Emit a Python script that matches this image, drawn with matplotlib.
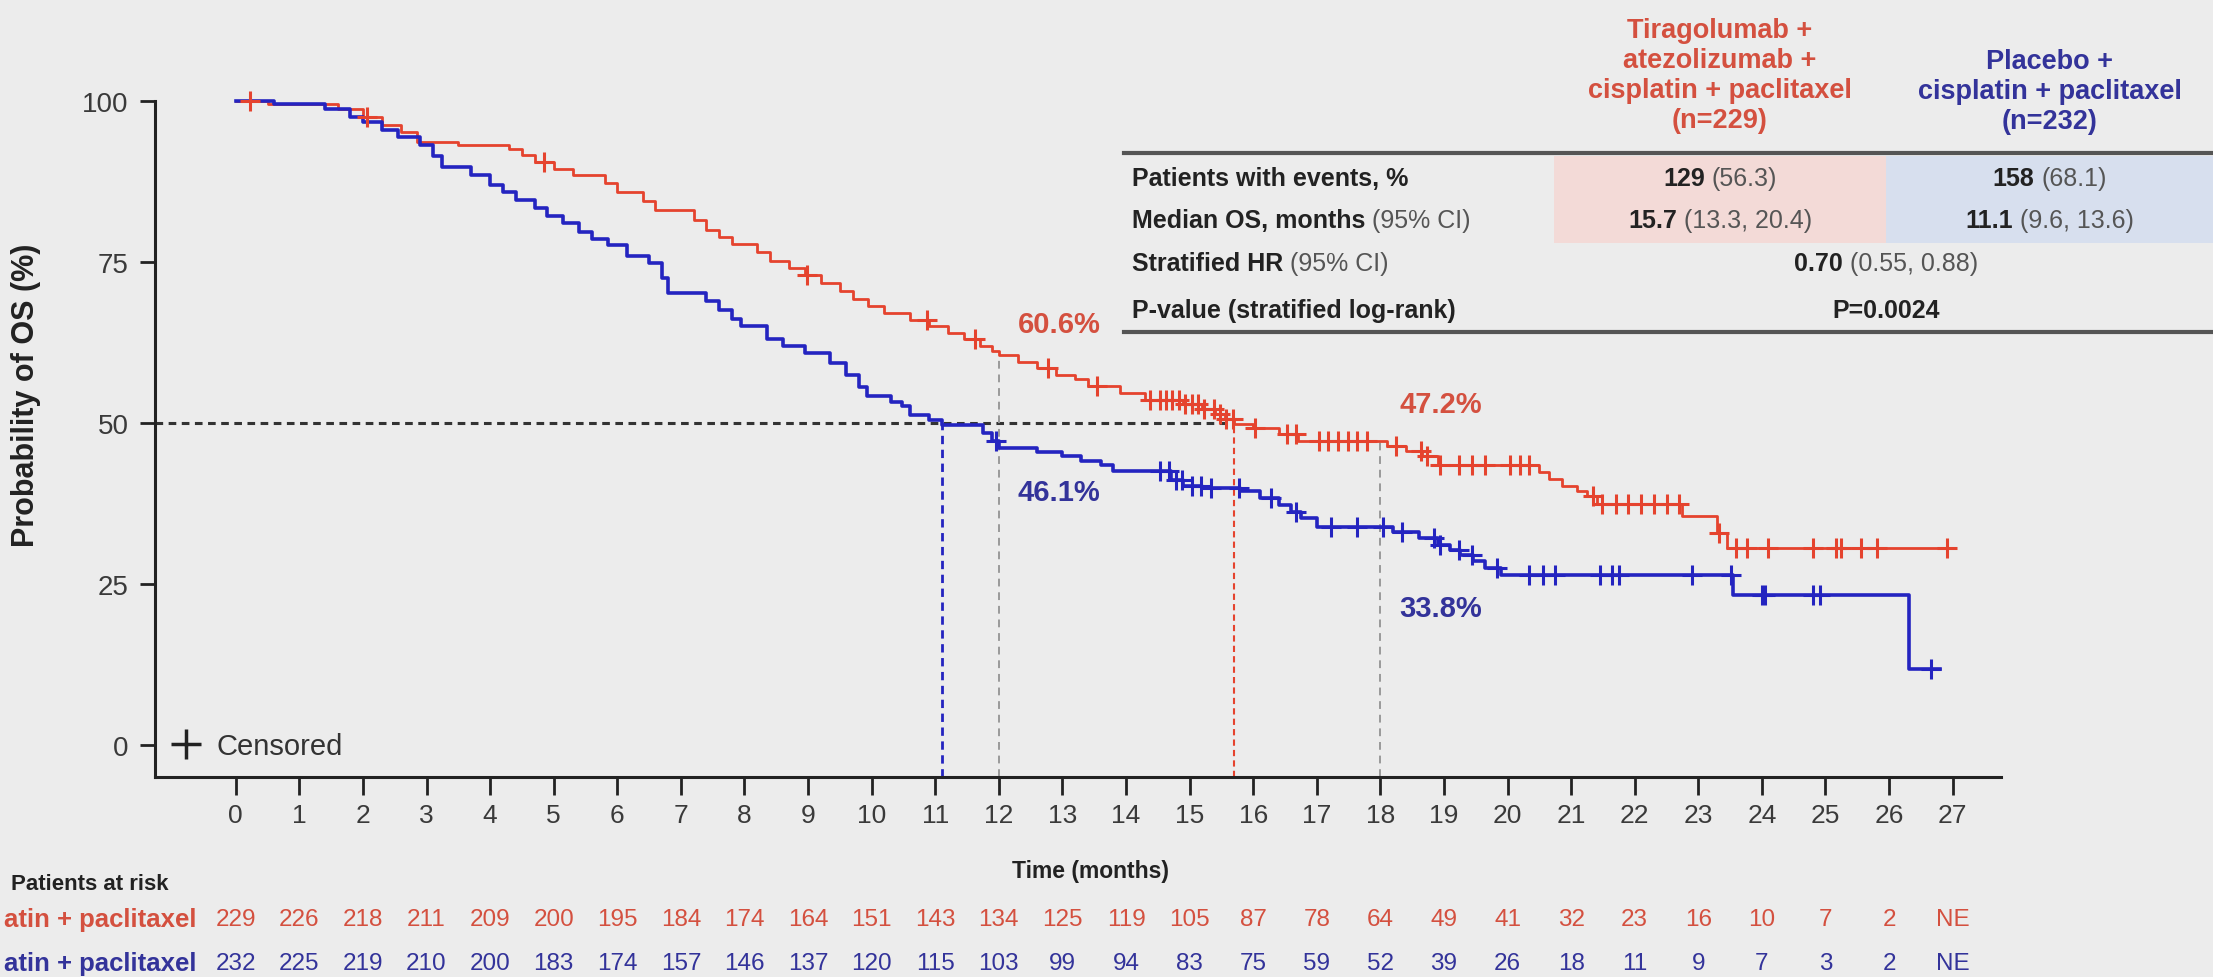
import matplotlib
matplotlib.use("Agg")
import matplotlib.pyplot as plt
import matplotlib.transforms as mtransforms
from matplotlib.lines import Line2D
from matplotlib.patches import Rectangle
import numpy as np

plt.rcParams['font.family'] = ['Liberation Sans', 'DejaVu Sans']

# Kaplan-Meier steps: time (months) and survival (%) after each step
red_t = [0, 0.5, 1.6, 2.0, 2.3, 2.6, 2.85, 3.5, 4.3, 4.5, 4.7, 5.0, 5.3, 5.8, 6.0,
         6.4, 6.6, 7.2, 7.4, 7.6, 7.8, 8.2, 8.4, 8.7, 8.95, 9.2, 9.5, 9.7, 9.95,
         10.2, 10.6, 10.9, 11.2, 11.45, 11.7, 11.9, 12.0, 12.3, 12.6, 12.9, 13.2, 13.4, 13.9,
         14.3, 14.9, 15.2, 15.4, 15.55, 15.7, 16.0, 16.4, 16.7, 18.1, 18.4, 18.65, 18.9, 20.5,
         20.65, 20.85, 21.1, 21.25, 21.4, 22.74, 23.3, 23.45]
red_s = [100, 99.5, 98.8, 97.5, 96.2, 95.2, 93.6, 93.1, 92.6, 91.6, 90.6, 89.5, 88.5, 87.2, 85.8,
         84.5, 83.0, 81.5, 80.0, 78.8, 77.8, 76.5, 75.2, 74.0, 73.0, 71.8, 70.5, 69.2, 68.2,
         67.1, 66.0, 65.0, 64.0, 63.0, 62.0, 61.2, 60.6, 59.5, 58.5, 57.5, 56.8, 55.8, 54.7,
         53.6, 52.9, 52.2, 51.4, 50.6, 49.8, 49.2, 48.2, 47.2, 46.4, 45.6, 44.8, 43.5, 42.3,
         41.3, 40.2, 39.4, 38.6, 37.4, 35.6, 32.9, 30.5]
red_end = 27.0
red_censor = [0.23, 2.06, 4.84, 8.98, 10.87, 11.62, 12.78, 13.55, 14.38, 14.53, 14.63, 14.73,
              14.83, 14.93, 15.03, 15.13, 15.23, 15.38, 15.48, 15.58, 15.68, 16.03, 16.53, 16.68,
              17.03, 17.18, 17.34, 17.49, 17.63, 17.79, 18.24, 18.64, 18.74, 18.94, 19.24, 19.44,
              19.64, 20.04, 20.19, 20.34, 21.35, 21.49, 21.70, 21.90, 22.10, 22.30, 22.50, 22.70,
              23.32, 23.60, 23.76, 24.10, 24.81, 25.16, 25.24, 25.56, 25.81, 26.91]

blue_t = [0, 0.6, 1.4, 1.8, 2.0, 2.3, 2.55, 2.9, 3.1, 3.25, 3.7, 4.0, 4.2, 4.4,
          4.7, 4.9, 5.15, 5.4, 5.6, 5.85, 6.15, 6.5, 6.7, 6.8, 7.4, 7.6, 7.8, 7.95,
          8.35, 8.6, 8.95, 9.35, 9.6, 9.8, 9.93, 10.3, 10.47, 10.6, 10.9, 11.1, 11.75, 11.9,
          12.0, 12.6, 13.0, 13.3, 13.6, 13.8, 14.7, 14.9, 15.2, 15.8, 16.1, 16.4, 16.6, 16.75,
          17.0, 18.2, 18.6, 18.9, 19.1, 19.25, 19.45, 19.65, 19.9, 23.55, 26.32]
blue_s = [100, 99.5, 98.8, 97.5, 96.7, 95.5, 94.4, 93.1, 91.5, 89.7, 88.5, 87.0, 85.8, 84.6,
          83.4, 82.2, 81.0, 79.6, 78.6, 77.6, 76.0, 74.9, 72.5, 70.2, 69.0, 67.5, 66.2, 65.1,
          63.0, 62.0, 60.9, 59.3, 57.5, 55.5, 54.2, 53.2, 52.6, 51.3, 50.4, 49.6, 48.5, 47.2,
          46.1, 45.5, 44.8, 44.1, 43.5, 42.5, 41.2, 40.2, 39.9, 39.4, 38.3, 37.3, 36.2, 35.2,
          33.8, 33.0, 32.1, 31.0, 30.2, 29.5, 28.5, 27.4, 26.4, 23.3, 11.8]
blue_end = 26.8
blue_censor = [11.96, 14.53, 14.68, 14.78, 14.88, 15.03, 15.18, 15.33, 15.78, 16.28, 16.68,
               17.23, 17.63, 18.04, 18.34, 18.84, 18.94, 19.24, 19.44, 19.84, 20.34, 20.55,
               20.75, 21.45, 21.65, 21.75, 22.90, 23.52, 24.00, 24.05, 24.81, 24.91, 26.66]

landmarks = [12, 18]
medians = [15.7, 11.1]

months = list(range(28))
red_risk = [229, 226, 218, 211, 209, 200, 195, 184, 174, 164, 151, 143, 134, 125,
            119, 105, 87, 78, 64, 49, 41, 32, 23, 16, 10, 7, 2, 'NE']
blue_risk = [232, 225, 219, 210, 200, 183, 174, 157, 146, 137, 120, 115, 103, 99,
             94, 83, 75, 59, 52, 39, 26, 18, 11, 9, 7, 3, 2, 'NE']
risk_labels = ["atin + paclitaxel", "atin + paclitaxel"]

arm_headers = ["Tiragolumab +\natezolizumab +\ncisplatin + paclitaxel\n(n=229)",
               "Placebo +\ncisplatin + paclitaxel\n(n=232)"]
events = [129, 158]
events_pct = [56.3, 68.1]
median_ci = [(13.3, 20.4), (9.6, 13.6)]
hr, hr_ci = 0.70, (0.55, 0.88)
p_value = "P=0.0024"

BG = '#ececec'
RED = '#e5432e'
BLUE = '#2424c0'
RED_TXT = '#d4503f'
BLUE_TXT = '#33339a'
DARK = '#222222'
GREY = '#555555'

W, H = 2213, 978


def fx(px):
    return px / W


def fy(py):
    return 1 - py / H


def surv(t_steps, s_steps, t):
    idx = np.searchsorted(t_steps, t, side='right') - 1
    return np.asarray(s_steps)[idx]


fig = plt.figure(figsize=(W / 100, H / 100), dpi=100, facecolor=BG)
ax = fig.add_axes([fx(155), fy(778), (2001 - 155) / W, (778 - 102) / H])
ax.set_facecolor(BG)
ax.set_xlim(-1.27, 27.76)
ax.set_ylim(-5, 100)

for side in ['top', 'right']:
    ax.spines[side].set_visible(False)
for side in ['left', 'bottom']:
    ax.spines[side].set_linewidth(2.2)
    ax.spines[side].set_color(DARK)

ax.set_xticks(months)
ax.set_yticks([0, 25, 50, 75, 100])
ax.tick_params(axis='x', length=13, width=2, color=DARK, pad=6, labelsize=19, labelcolor='#3a3a3a')
ax.tick_params(axis='y', length=11, width=2, color=DARK, pad=8, labelsize=20, labelcolor='#3a3a3a')

# reference lines for medians and landmarks
ax.hlines(50, -1.27, max(medians), colors='#333333', lw=2.2, linestyles=(0, (2.5, 1.8)), zorder=2)
ax.vlines(medians[1], -5, 50, colors=BLUE, lw=2.0, linestyles=(0, (3, 2)), zorder=2)
ax.vlines(medians[0], -5, 50, colors=RED, lw=1.5, linestyles=(0, (3, 2)), zorder=2)
for lm in landmarks:
    ax.vlines(lm, -5, surv(red_t, red_s, lm), colors='#999999', lw=1.4,
              linestyles=(0, (4, 3)), zorder=2)

# survival curves with censoring ticks
for t, s, end, cens, col, lw in [(red_t, red_s, red_end, red_censor, RED, 2.0),
                                 (blue_t, blue_s, blue_end, blue_censor, BLUE, 2.6)]:
    ax.step(np.append(t, end), np.append(s, s[-1]), where='post', color=col, lw=lw,
            clip_on=False, zorder=4)
    ax.plot(cens, surv(t, s, cens), ls='none', marker='+', ms=15, mew=2.2, color=col,
            clip_on=False, zorder=5)

# landmark percentages
for lm, dy in zip(landmarks, [4.7, 5.7]):
    v = surv(red_t, red_s, lm)
    ax.text(lm + 0.3, v + dy, f"{v:.1f}%", color=RED_TXT, fontsize=21, weight='bold',
            ha='left', va='center')
for lm, dy in zip(landmarks, [-6.8, -12.5]):
    v = surv(blue_t, blue_s, lm)
    ax.text(lm + 0.3, v + dy, f"{v:.1f}%", color=BLUE_TXT, fontsize=21, weight='bold',
            ha='left', va='center')

ax.legend(handles=[Line2D([], [], marker='+', ls='none', color=DARK, ms=21, mew=2.5,
                          label='Censored')],
          loc='center left', bbox_to_anchor=(0.009, 0.046), frameon=False, fontsize=21,
          handlelength=1.0, handletextpad=0.55, borderpad=0, borderaxespad=0,
          labelcolor='#333333')

fig.text(fx(26), fy(395), "Probability of OS (%)", rotation=90, ha='center', va='center',
         fontsize=22, weight='bold', color=DARK)
fig.text(fx(1091), fy(872), "Time (months)", ha='center', va='center', fontsize=16.5,
         weight='bold', color=DARK)

# patients at risk
fig.text(fx(11), fy(885), "Patients at risk", ha='left', va='center', fontsize=16,
         weight='bold', color=DARK)
risk_tr = mtransforms.blended_transform_factory(ax.transData, fig.transFigure)
for risk, name, ypx, col in [(red_risk, risk_labels[0], 920, RED_TXT),
                             (blue_risk, risk_labels[1], 964, BLUE_TXT)]:
    fig.text(fx(197), fy(ypx), name, ha='right', va='center', fontsize=18.5, weight='bold',
             color=col)
    for m, n in zip(months, risk):
        ax.text(m, fy(ypx), str(n), transform=risk_tr, ha='center', va='center',
                fontsize=17.5, color=col, clip_on=False)

# summary table
renderer = fig.canvas.get_renderer()


def mixed_text(x, y, parts, ha='center', size=18):
    objs = [fig.text(0, fy(y), s, weight=w, color=c, fontsize=size, ha='left', va='center')
            for s, w, c in parts]
    widths = [o.get_window_extent(renderer).width for o in objs]
    gap = 0.28 * size * 100 / 72
    total = sum(widths) + gap * (len(objs) - 1)
    start = x - total / 2 if ha == 'center' else x
    for o, w in zip(objs, widths):
        o.set_x(fx(start))
        start += w + gap


tab_left, col_split, tab_right = 1124, 1886, 2213
col_centers = [(1554 + col_split) / 2, (col_split + tab_right) / 2]
fig.patches.append(Rectangle((fx(1554), fy(244)), (col_split - 1554) / W, 87 / H,
                             transform=fig.transFigure, facecolor='#f3dad7', edgecolor='none'))
fig.patches.append(Rectangle((fx(col_split), fy(244)), (tab_right - col_split) / W, 87 / H,
                             transform=fig.transFigure, facecolor='#d7dfee', edgecolor='none'))
for ypx in [154, 333]:
    fig.lines.append(Line2D([fx(tab_left), fx(tab_right)], [fy(ypx), fy(ypx)],
                            transform=fig.transFigure, color='#555555', lw=3))

for cx, head, col, ny in zip(col_centers, arm_headers, [RED_TXT, BLUE_TXT], [4, 3]):
    ytop = 124 - 32 * (ny - 1)
    fig.text(fx(cx), fy(ytop + 32 * (ny - 1) / 2), head, ha='center', va='center',
             fontsize=19.5, weight='bold', color=col, linespacing=1.2, multialignment='center')

row_y = [179, 221, 264, 311]
row_labels = [[("Patients with events, %", 'bold', DARK)],
              [("Median OS, months", 'bold', DARK), ("(95% CI)", 'normal', GREY)],
              [("Stratified HR", 'bold', DARK), ("(95% CI)", 'normal', GREY)],
              [("P-value (stratified log-rank)", 'bold', DARK)]]
for y, parts in zip(row_y, row_labels):
    mixed_text(1132, y, parts, ha='left')

for i, cx in enumerate(col_centers):
    mixed_text(cx, row_y[0], [(str(events[i]), 'bold', DARK),
                              (f"({events_pct[i]:.1f})", 'normal', GREY)])
    mixed_text(cx, row_y[1], [(f"{medians[i]:.1f}", 'bold', DARK),
                              (f"({median_ci[i][0]:.1f}, {median_ci[i][1]:.1f})", 'normal', GREY)])
mixed_text(col_split, row_y[2], [(f"{hr:.2f}", 'bold', DARK),
                                 (f"({hr_ci[0]:.2f}, {hr_ci[1]:.2f})", 'normal', GREY)])
mixed_text(col_split, row_y[3], [(p_value, 'bold', DARK)])

fig.savefig("out.png", dpi=100, facecolor=BG)
